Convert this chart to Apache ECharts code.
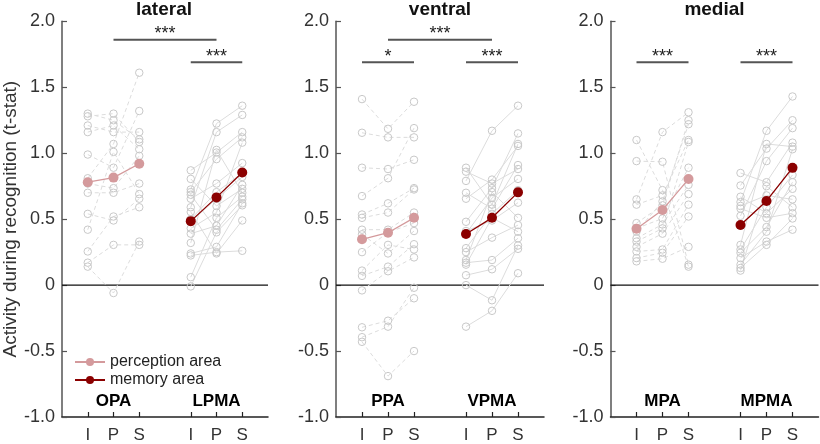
<!DOCTYPE html>
<html><head><meta charset="utf-8">
<script src="https://cdn.jsdelivr.net/npm/echarts@6/dist/echarts.min.js"></script>
<style>html,body{margin:0;padding:0;background:#fff}#c{width:820px;height:444px}</style>
</head><body><div id="c"></div>
<script>
// ---------- data ----------
const xCategories = ['', 'I', 'P', 'S', '', 'I', 'P', 'S', ''];
const panelTitles = ['lateral', 'ventral', 'medial'];
const percNames = ['OPA', 'PPA', 'MPA'];
const memNames = ['LPMA', 'VPMA', 'MPMA'];
const legendNames = ['perception area', 'memory area'];

// individual subjects (I, P, S), perception areas
const lateralPercI = [1.30, 1.28, 1.21, 1.16, 0.99, 0.81, 0.77, 0.70, 0.54, 0.42, 0.255, 0.17, 0.14];
const lateralPercP = [1.25, 1.30, 1.16, 1.21, 0.89, 1.07, 0.735, 0.70, 0.49, 1.01, 0.52, 0.305, -0.06];
const lateralPercS = [1.105, 1.085, 1.16, 1.03, 1.32, 1.61, 0.98, 0.77, 0.655, 0.69, 0.59, 0.305, 0.33];
// memory areas
const lateralMemI = [0.87, 0.805, 0.725, 0.705, 0.685, 0.655, 0.59, 0.555, 0.50, 0.48, 0.43, 0.39, 0.32, 0.24, 0.225, 0.06, -0.01];
const lateralMemP = [1.005, 0.60, 1.225, 0.955, 0.42, 0.77, 1.16, 0.24, 0.705, 0.655, 0.55, 0.45, 1.025, 0.29, 0.25, 0.51, 0.40];
const lateralMemS = [1.16, 0.73, 1.36, 1.12, 0.65, 0.925, 1.29, 0.49, 0.85, 0.82, 1.08, 0.76, 0.70, 0.62, 0.26, 0.67, 0.605];

const ventralPercI = [1.41, 1.155, 0.89, 0.675, 0.535, 0.51, 0.42, 0.385, 0.25, 0.11, 0.07, -0.04, -0.32, -0.395, -0.43];
const ventralPercP = [1.185, 1.12, 0.88, 0.81, 0.62, 0.55, 0.42, 0.24, 0.40, 0.305, 0.14, 0.105, -0.27, -0.315, -0.69];
const ventralPercS = [1.39, 1.12, 0.95, 1.19, 0.735, 0.725, 0.55, 0.41, 0.47, 0.27, 0.31, 0.21, -0.10, -0.02, -0.50];
const ventralMemI = [0.89, 0.86, 0.79, 0.70, 0.655, 0.48, 0.41, 0.39, 0.28, 0.25, 0.19, 0.17, 0.155, 0.075, 0.0, -0.315];
const ventralMemP = [0.61, 0.77, 1.17, 0.58, 0.80, 0.735, 0.49, 0.66, 0.54, 0.36, 0.705, 0.19, 0.51, 0.12, -0.115, -0.195];
const ventralMemS = [1.07, 0.88, 1.36, 0.91, 1.055, 1.15, 0.625, 0.805, 0.72, 0.455, 0.51, 0.355, 0.405, 0.275, 0.30, 0.09];

const medialPercI = [1.10, 0.94, 0.65, 0.61, 0.47, 0.43, 0.405, 0.355, 0.33, 0.29, 0.255, 0.205, 0.18];
const medialPercP = [0.72, 0.935, 1.16, 0.68, 0.605, 0.505, 0.635, 0.46, 0.43, 0.39, 0.27, 0.245, 0.20];
const medialPercS = [0.14, 0.155, 1.31, 1.10, 1.25, 0.89, 1.22, 0.76, 1.085, 0.69, 0.61, 0.52, 0.29];
const medialMemI = [0.85, 0.755, 0.67, 0.63, 0.60, 0.58, 0.525, 0.45, 0.305, 0.27, 0.245, 0.205, 0.155, 0.13, 0.11];
const medialMemP = [0.78, 1.035, 0.545, 1.17, 0.68, 0.51, 0.94, 0.64, 1.07, 0.59, 0.44, 0.33, 0.405, 0.305, 0.75];
const medialMemS = [1.08, 1.25, 0.73, 1.43, 0.65, 0.545, 1.19, 0.89, 1.05, 0.835, 0.78, 0.42, 1.03, 0.505, 0.59];

// group means (I, P, S)
const lateralPercMean = [0.78, 0.815, 0.92];
const lateralMemMean = [0.485, 0.665, 0.853];
const ventralPercMean = [0.347, 0.397, 0.51];
const ventralMemMean = [0.387, 0.51, 0.703];
const medialPercMean = [0.427, 0.57, 0.804];
const medialMemMean = [0.455, 0.638, 0.889];

// significance comparisons: [fromCategoryIndex, toCategoryIndex, value, label]
const lateralSig = [[2, 6, 1.86, '***'], [5, 7, 1.69, '***']];
const ventralSig = [[1, 3, 1.69, '*'], [2, 6, 1.86, '***'], [5, 7, 1.69, '***']];
const medialSig = [[1, 3, 1.69, '***'], [5, 7, 1.69, '***']];

// ---------- chart ----------
const FONT = '"Liberation Sans", Arial, Helvetica, sans-serif';
const percColor = '#d49a9c';
const memColor = '#8b0000';
const panels = [
  {perc: [lateralPercI, lateralPercP, lateralPercS], mem: [lateralMemI, lateralMemP, lateralMemS], pm: lateralPercMean, mm: lateralMemMean, sig: lateralSig},
  {perc: [ventralPercI, ventralPercP, ventralPercS], mem: [ventralMemI, ventralMemP, ventralMemS], pm: ventralPercMean, mm: ventralMemMean, sig: ventralSig},
  {perc: [medialPercI, medialPercP, medialPercS], mem: [medialMemI, medialMemP, medialMemS], pm: medialPercMean, mm: medialMemMean, sig: medialSig}
];
const gridLefts = [60, 336, 610.5];
const gridW = 208, gridTop = 21.3, gridH = 398.7;

const grids = [], xAxes = [], yAxes = [], series = [], graphics = [];
panels.forEach((p, gi) => {
  grids.push({left: gridLefts[gi], top: gridTop, width: gridW, height: gridH});
  xAxes.push({
    type: 'category', gridIndex: gi, data: xCategories, boundaryGap: false,
    axisLine: {onZero: false, lineStyle: {color: '#222', width: 1.5}},
    axisTick: {inside: true, length: 5, interval: (i, v) => v !== '', lineStyle: {color: '#222', width: 1.2}},
    axisLabel: {interval: (i, v) => v !== '', margin: 10, fontSize: 17, color: '#333', fontFamily: FONT},
    splitLine: {show: false}
  });
  yAxes.push({
    type: 'value', gridIndex: gi, min: -1, max: 2, interval: 0.5,
    axisLine: {show: true, lineStyle: {color: '#555', width: 1.5}},
    axisTick: {show: true, inside: true, length: 5, lineStyle: {color: '#555', width: 1.2}},
    axisLabel: {margin: 7, fontSize: 18, color: '#333', fontFamily: FONT,
      formatter: v => v === 0 ? '0' : v.toFixed(1)},
    splitLine: {show: false},
    name: gi === 0 ? 'Activity during recognition (t-stat)' : '',
    nameLocation: 'middle', nameRotate: 90, nameGap: 42,
    nameTextStyle: {fontSize: 19, color: '#333', fontFamily: FONT}
  });
  // zero line
  series.push({type: 'line', xAxisIndex: gi, yAxisIndex: gi, data: [[0, 0], [8, 0]], symbol: 'none',
    lineStyle: {color: '#111', width: 1.3}, silent: true, z: 1, animation: false});
  // subjects
  const addSubjects = (arrs, offset, dashed) => {
    arrs[0].forEach((_, k) => {
      series.push({type: 'line', xAxisIndex: gi, yAxisIndex: gi,
        data: [[offset, arrs[0][k]], [offset + 1, arrs[1][k]], [offset + 2, arrs[2][k]]],
        symbol: 'circle', symbolSize: 7.5,
        itemStyle: {color: 'rgba(255,255,255,0)', borderColor: '#c8c8c8', borderWidth: 1},
        lineStyle: {color: '#dcdcdc', width: 1, type: dashed ? [4, 3] : 'solid'},
        silent: true, z: 2, animation: false});
    });
  };
  addSubjects(p.perc, 1, true);
  addSubjects(p.mem, 5, false);
  // means
  series.push({type: 'line', name: legendNames[0], xAxisIndex: gi, yAxisIndex: gi,
    data: p.pm.map((v, i) => [1 + i, v]), symbol: 'circle', symbolSize: 10,
    itemStyle: {color: percColor}, lineStyle: {color: percColor, width: 1.3}, z: 10, animation: false});
  series.push({type: 'line', name: legendNames[1], xAxisIndex: gi, yAxisIndex: gi,
    data: p.mm.map((v, i) => [5 + i, v]), symbol: 'circle', symbolSize: 10,
    itemStyle: {color: memColor}, lineStyle: {color: memColor, width: 1.3}, z: 10, animation: false});
  // significance bars
  p.sig.forEach(s => {
    series.push({type: 'line', xAxisIndex: gi, yAxisIndex: gi, data: [[s[0], s[2]], [s[1], s[2]]],
      symbol: 'none', lineStyle: {color: '#555', width: 2}, silent: true, z: 5, animation: false});
    series.push({type: 'scatter', xAxisIndex: gi, yAxisIndex: gi, data: [[(s[0] + s[1]) / 2, s[2]]],
      symbolSize: 1, itemStyle: {color: '#fff', opacity: 0}, silent: true, animation: false,
      label: {show: true, position: 'top', distance: -4, formatter: s[3], fontSize: 18, color: '#222',
        textBorderWidth: 0, opacity: 1, fontFamily: FONT}});
  });
  // group names
  series.push({type: 'scatter', xAxisIndex: gi, yAxisIndex: gi, data: [[2, -0.88, percNames[gi]], [6, -0.88, memNames[gi]]],
    symbolSize: 1, itemStyle: {color: '#fff', opacity: 0}, silent: true, animation: false,
    label: {show: true, position: 'inside', formatter: d => d.value[2], fontSize: 17, fontWeight: 'bold', color: '#000',
      textBorderWidth: 0, opacity: 1, fontFamily: FONT}});
  // title
  graphics.push({type: 'text', x: gridLefts[gi] + gridW / 2, y: 0,
    style: {text: panelTitles[gi], textAlign: 'center', textVerticalAlign: 'top',
      font: 'bold 19px ' + FONT, fill: '#111'}});
});

const chart = echarts.init(document.getElementById('c'), null, {renderer: 'canvas'});
chart.setOption({
  animation: false,
  grid: grids, xAxis: xAxes, yAxis: yAxes, series: series, graphic: graphics,
  legend: {data: legendNames, left: 69, top: 349, orient: 'vertical', itemGap: 2, itemWidth: 30, itemHeight: 10,
    selectedMode: false,
    textStyle: {fontSize: 16, color: '#222', fontFamily: FONT, lineHeight: 16}}
});
</script>
</body></html>
